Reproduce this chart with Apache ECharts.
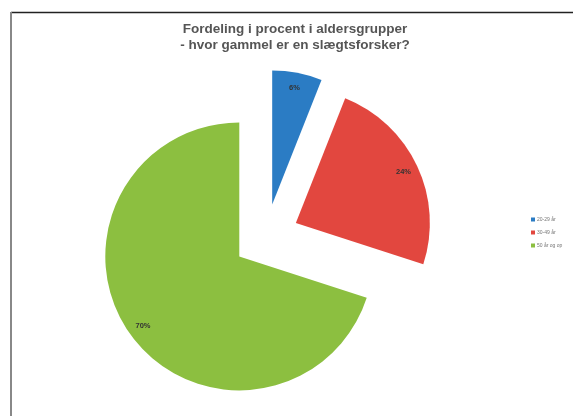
<!DOCTYPE html>
<html><head><meta charset="utf-8">
<script src="https://cdn.jsdelivr.net/npm/echarts@6/dist/echarts.min.js"></script>
<style>html,body{margin:0;padding:0;background:#fff}#c{width:573px;height:416px}</style>
</head><body><div id="c"></div>
<script>
const categories = ['20-29 år', '30-49 år', '50 år og op'];
const values = [6, 24, 70];
const colors = ['#2b7cc4', '#e2473f', '#8cbf40'];
const titleLines = ['Fordeling i procent i aldersgrupper', '- hvor gammel er en slægtsforsker?'];

const chart = echarts.init(document.getElementById('c'));
const baseData = categories.map((n, i) => ({ name: n, value: values[i], selected: true, itemStyle: { color: colors[i] } }));
const labelData = categories.map((n, i) => ({ name: n, value: values[i], selected: true }));
chart.setOption({
  backgroundColor: '#fff',
  animation: false,
  title: {
    text: titleLines.join('\n'),
    left: 290, top: 16, textAlign: 'center',
    textStyle: { fontFamily: 'Liberation Sans', fontWeight: 'bold', fontSize: 13.5, color: '#555', lineHeight: 16 }
  },
  legend: {
    orient: 'vertical', left: 526, top: 212,
    itemWidth: 4, itemHeight: 4, itemGap: 8, icon: 'rect',
    data: categories,
    textStyle: { fontSize: 5, color: '#777', fontFamily: 'Liberation Sans', padding: [0,0,0,-3] }
  },
  graphic: [
    { type: 'line', shape: { x1: 11, y1: 12.5, x2: 573, y2: 12.5 }, style: { stroke: '#222', lineWidth: 1.5 } },
    { type: 'line', shape: { x1: 11, y1: 12, x2: 11, y2: 416 }, style: { stroke: '#888', lineWidth: 2 } }
  ],
  series: [
    {
      type: 'pie', center: [266, 237], radius: [0, 134], startAngle: 90, clockwise: true,
      selectedMode: 'multiple', selectedOffset: 33,
      label: { show: false }, labelLine: { show: false },
      emphasis: { disabled: true },
      data: baseData
    },
    {
      type: 'pie', center: [266, 237], radius: [102, 130], startAngle: 90, clockwise: true,
      selectedMode: 'multiple', selectedOffset: 33, silent: true,
      itemStyle: { color: 'rgba(0,0,0,0)' },
      label: { show: true, position: 'inside', formatter: '{c}%', fontSize: 7.5, fontWeight: 'bold', color: '#333', fontFamily: 'Liberation Sans' },
      labelLine: { show: false },
      emphasis: { disabled: true },
      data: labelData
    }
  ]
});
</script></body></html>
